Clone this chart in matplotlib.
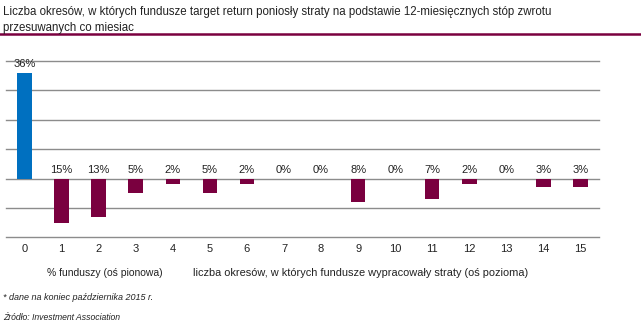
import matplotlib
matplotlib.use("Agg")
import matplotlib.pyplot as plt

categories = [str(i) for i in range(16)]
values = [36, -15, -13, -5, -2, -5, -2, 0, 0, -8, 0, -7, -2, 0, -3, -3]
labels = ["36%", "15%", "13%", "5%", "2%", "5%", "2%", "0%", "0%", "8%", "0%", "7%", "2%", "0%", "3%", "3%"]

title_line1 = "Liczba okresów, w których fundusze target return poniosły straty na podstawie 12-miesięcznych stóp zwrotu"
title_line2 = "przesuwanych co miesiac"
legend_y = "% funduszy (oś pionowa)"
legend_x = "liczba okresów, w których fundusze wypracowały straty (oś pozioma)"
note = "* dane na koniec października 2015 r."
source = "Źródło: Investment Association"

plt.rcParams['font.family'] = ['Liberation Sans Narrow', 'Liberation Sans', 'DejaVu Sans']

W, H = 641, 326
fig = plt.figure(figsize=(W / 100, H / 100), dpi=100)
fig.patch.set_facecolor("white")

ax = fig.add_axes([6 / W, 1 - 237.3 / H, (599 - 6) / W, (237.3 - 61) / H])
colors = ["#0070C0" if v > 0 else "#7A003F" for v in values]
x = list(range(len(values)))
ax.bar(x, values, width=0.39, color=colors, zorder=3)
ax.set_xlim(-0.5, 15.5)
ax.set_ylim(-20, 40)
ax.set_yticks(range(-20, 41, 10))
ax.set_yticklabels([])
ax.tick_params(axis="y", length=0)
ax.yaxis.grid(True, color="#8c8c8c", linewidth=1.0, zorder=0)
for gl in ax.get_ygridlines():
    gl.set_clip_on(False)
ax.set_axisbelow(True)
for s in ax.spines.values():
    s.set_visible(False)
ax.set_xticks(x)
ax.set_xticklabels(categories, fontsize=8, color="#222222")
ax.tick_params(axis="x", length=0, pad=5)

for xi, v, lab in zip(x, values, labels):
    base = v if v > 0 else 0
    ax.annotate(lab, (xi, base), xytext=(0, 2.5), textcoords="offset points",
                ha="center", va="bottom", fontsize=8, color="#222222")

fig.text(3 / W, 1 - 15 / H, title_line1, ha="left", va="baseline", fontsize=8.3, color="#222222")
fig.text(3 / W, 1 - 30.5 / H, title_line2, ha="left", va="baseline", fontsize=8.3, color="#222222")
fig.add_artist(plt.Line2D([0, 1], [1 - 33.5 / H, 1 - 33.5 / H], transform=fig.transFigure,
                          color="#7A003F", linewidth=1.8))

fig.text(47 / W, 1 - 273 / H, legend_y, ha="left", va="center", fontsize=7.5, color="#222222")
fig.text(193 / W, 1 - 273 / H, legend_x, ha="left", va="center", fontsize=7.9, color="#222222")
fig.text(3 / W, 1 - 297 / H, note, ha="left", va="center", fontsize=6.5, style="italic", color="#222222")
fig.text(3 / W, 1 - 318 / H, source, ha="left", va="center", fontsize=6.2, style="italic", color="#222222")

fig.savefig("out.png", dpi=100, facecolor="white")
